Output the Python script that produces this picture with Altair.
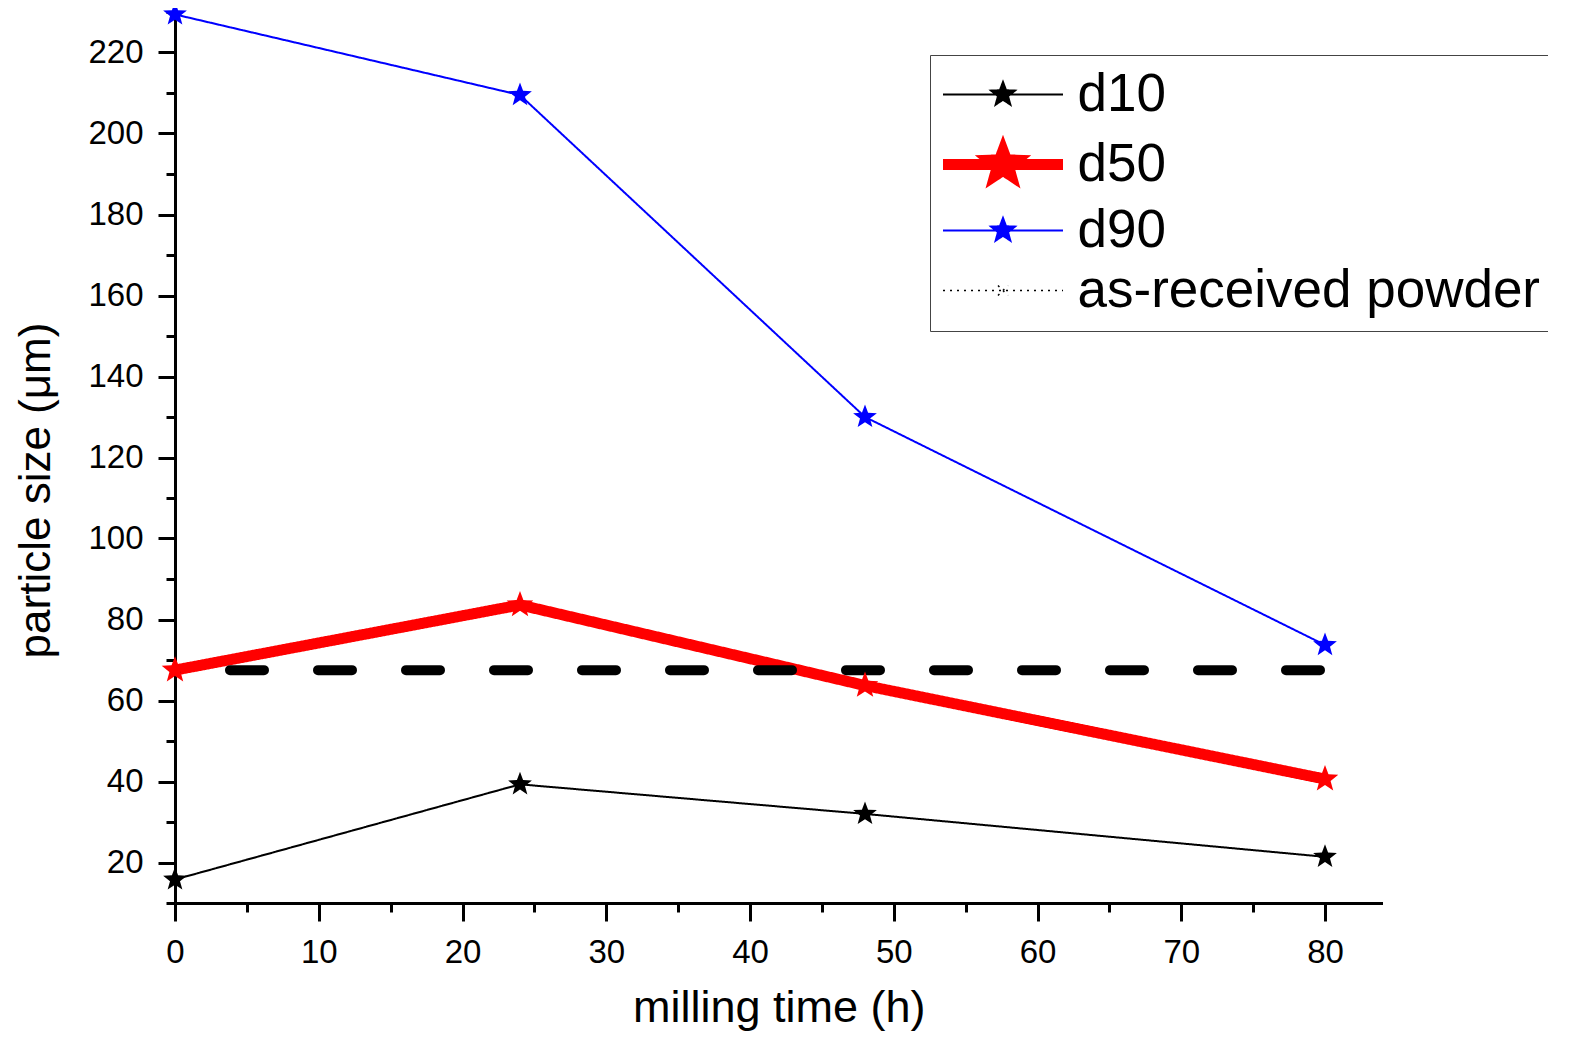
import math
import altair as alt
import pandas as pd

# ---------------- data ----------------
TIME_H = [0, 24, 48, 80]
D10 = [15.8, 39.3, 32.0, 21.4]
D50 = [67.5, 83.6, 63.7, 40.6]
D90 = [229.4, 209.5, 130.0, 73.7]
AS_RECEIVED_TIME = [0, 80]
AS_RECEIVED = [67.5, 67.5]

SERIES = ["d10", "d50", "d90", "as-received powder"]
COLORS = ["#000000", "#ff0000", "#0000ff", "#000000"]
LINE_WIDTHS = [2, 11, 2, 1.5]
LINE_DASHES = [[1, 0], [1, 0], [1, 0], [2, 5]]

X_MAJOR = [0, 10, 20, 30, 40, 50, 60, 70, 80]
X_MINOR = [5, 15, 25, 35, 45, 55, 65, 75]
Y_MAJOR = [20, 40, 60, 80, 100, 120, 140, 160, 180, 200, 220]
Y_MINOR = [10, 30, 50, 70, 90, 110, 130, 150, 170, 190, 210, 230]

FONT = "Liberation Sans"


def star(R, ratio=0.42):
    pts = []
    for k in range(10):
        ang = math.radians(-90 + 36 * k)
        rr = R if k % 2 == 0 else R * ratio
        pts.append(f"{rr * math.cos(ang):.3f},{rr * math.sin(ang):.3f}")
    return "M" + "L".join(pts) + "Z"


SEG = "M-6,0L6,0"
SHAPES = [
    SEG + star(1.25),
    SEG + star(1.4),
    SEG + star(1.25),
    SEG + "M-0.5,-0.5L0.5,0.5M-0.5,0.5L0.5,-0.5",
]

rows = []
for name, vals in (("d10", D10), ("d50", D50), ("d90", D90)):
    for t, v in zip(TIME_H, vals):
        rows.append({"time": t, "size": v, "series": name})
df = pd.DataFrame(rows)
ref = pd.DataFrame({"time": AS_RECEIVED_TIME, "size": AS_RECEIVED})

xscale = alt.Scale(domain=[0, 84], nice=False, zero=False)
yscale = alt.Scale(domain=[10, 230], nice=False, zero=False)


def leg():
    return alt.Legend(
        title=None, orient="none", legendX=755, legendY=43,
        padding=13, rowPadding=6, symbolSize=400, symbolOffset=33.5,
        labelOffset=48, labelFontSize=53, labelFont=FONT, labelColor="black",
        labelLimit=0, strokeColor="#444444", fillColor="white",
        symbolFillColor="black",
    )


x_major = alt.Axis(
    values=X_MAJOR, orient="bottom", tickSize=18, tickWidth=3, tickColor="black",
    domainWidth=3, domainColor="black", labelFontSize=33, labelFont=FONT,
    labelColor="black", labelPadding=15, labelFlush=False, grid=False,
    title="milling time (h)", titleFont=FONT, titleFontSize=45,
    titleFontWeight="normal", titleColor="black", titlePadding=16,
)
y_major = alt.Axis(
    values=Y_MAJOR, orient="left", tickSize=17, tickWidth=3, tickColor="black",
    domainWidth=3, domainColor="black", labelFontSize=33, labelFont=FONT,
    labelColor="black", labelPadding=15, labelFlush=False, grid=False,
    title="particle size (μm)", titleFont=FONT, titleFontSize=44,
    titleFontWeight="normal", titleColor="black", titlePadding=29, titleY=478,
)
x_minor = alt.Axis(values=X_MINOR, orient="bottom", tickSize=9, tickWidth=3,
                   tickColor="black", labels=False, domain=False, grid=False, title=None)
y_minor = alt.Axis(values=Y_MINOR, orient="left", tickSize=9, tickWidth=3,
                   tickColor="black", labels=False, domain=False, grid=False, title=None)

lines = alt.Chart(df).mark_line(strokeCap="round", strokeJoin="round").encode(
    x=alt.X("time:Q", scale=xscale, axis=x_major),
    y=alt.Y("size:Q", scale=yscale, axis=y_major),
    color=alt.Color("series:N", scale=alt.Scale(domain=SERIES, range=COLORS), legend=leg()),
    strokeWidth=alt.StrokeWidth("series:N",
                                scale=alt.Scale(type="ordinal", domain=SERIES, range=LINE_WIDTHS),
                                legend=leg()),
    strokeDash=alt.StrokeDash("series:N",
                              scale=alt.Scale(domain=SERIES, range=LINE_DASHES),
                              legend=leg()),
    detail="series:N",
)

dashed = alt.Chart(ref).mark_line(
    color="black", strokeWidth=10, strokeDash=[34, 54], strokeDashOffset=33, strokeCap="round"
).encode(
    x=alt.X("time:Q", scale=xscale, axis=None),
    y=alt.Y("size:Q", scale=yscale, axis=None),
)

points = alt.Chart(df).mark_point(filled=True, size=400, opacity=1).encode(
    x=alt.X("time:Q", scale=xscale, axis=x_minor),
    y=alt.Y("size:Q", scale=yscale, axis=y_minor),
    fill=alt.Fill("series:N", scale=alt.Scale(domain=SERIES, range=COLORS), legend=leg()),
    shape=alt.Shape("series:N", scale=alt.Scale(domain=SERIES, range=SHAPES), legend=leg()),
)

chart = alt.layer(lines, dashed, points).resolve_axis(
    x="independent", y="independent"
).properties(
    width=1207.5, height=891,
    autosize=alt.AutoSizeParams(type="none"),
    padding={"left": 167, "top": 4, "right": 165, "bottom": 132},
).configure_view(strokeWidth=0)

chart.save("out.html", embed_options={"renderer": "svg", "actions": False})
